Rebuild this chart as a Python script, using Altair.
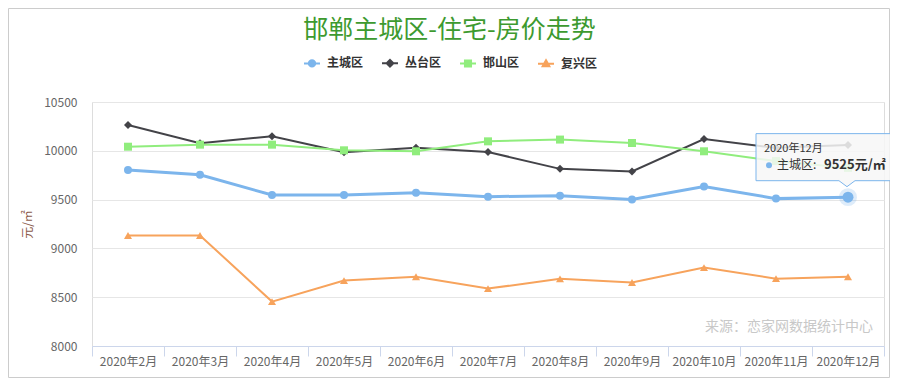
import altair as alt
import pandas as pd

months = ["2020年2月", "2020年3月", "2020年4月", "2020年5月", "2020年6月", "2020年7月",
          "2020年8月", "2020年9月", "2020年10月", "2020年11月", "2020年12月"]
series_names = ["主城区", "丛台区", "邯山区", "复兴区"]
zhucheng = [9803, 9755, 9547, 9547, 9570, 9530, 9540, 9500, 9635, 9510, 9525]
congtai = [10264, 10077, 10150, 9985, 10030, 9988, 9815, 9788, 10120, 10030, 10060]
hanshan = [10042, 10063, 10063, 10005, 9995, 10097, 10115, 10080, 9995, 9895, 9825]
fuxing = [9133, 9133, 8455, 8670, 8710, 8588, 8688, 8650, 8803, 8690, 8710]
y_ticks = [8000, 8500, 9000, 9500, 10000, 10500]

colors = ["#7cb5ec", "#434348", "#90ed7d", "#f7a35c"]
shapes = ["circle", "diamond", "square", "triangle-up"]
line_widths = [3, 2, 2, 2]
legend_paths = [
    "M-1,0H1M-0.4,0A0.4,0.4,0,1,0,0.4,0A0.4,0.4,0,1,0,-0.4,0Z",
    "M-1,0H1M0,-0.42L0.42,0L0,0.42L-0.42,0Z",
    "M-1,0H1M-0.38,-0.38H0.38V0.38H-0.38Z",
    "M-1,0H1M0,-0.42L0.42,0.34H-0.42Z",
]
tooltip_month = "2020年12月"
title_text = "邯郸主城区-住宅-房价走势"
source_text = "来源：恋家网数据统计中心"
FONT = "Noto Sans CJK SC"

all_values = [zhucheng, congtai, hanshan, fuxing]
rows = []
for name, vals in zip(series_names, all_values):
    for m, v in zip(months, vals):
        rows.append({"month": m, "series": name, "value": v})
df = pd.DataFrame(rows)

X = alt.X("month:N", sort=months,
          scale=alt.Scale(type="band", domain=months, paddingInner=0, paddingOuter=0),
          axis=alt.Axis(title=None, labelAngle=0, labelColor="#666666", labelFontSize=12,
                        labelFont=FONT, domainColor="#ccd6eb", tickColor="#ccd6eb",
                        tickSize=10, tickBand="extent", labelPadding=0, grid=False))
Y = alt.Y("value:Q",
          scale=alt.Scale(domain=[8000, 10500], nice=False, zero=False),
          axis=alt.Axis(values=y_ticks, title="元/㎡", titleColor="#8b5a4a", titleFontSize=12,
                        titleFont=FONT, titleFontWeight="normal", titlePadding=9,
                        labelColor="#666666", labelFontSize=12, labelFont=FONT,
                        labelPadding=15, domain=False, ticks=False,
                        gridColor="#e6e6e6", format="d"))

one_row = "datum.month == '2020年2月' && datum.series == '主城区'"
layers = []

# frame
frame = alt.Chart(df).transform_filter(one_row).mark_rect(
    fill="transparent", stroke="#cccccc", strokeWidth=1).encode(
    x=alt.value(-83.5), x2=alt.value(797.5), y=alt.value(-93.5), y2=alt.value(275.5))
layers.append(frame)

# title
layers.append(alt.Chart(df).transform_filter(one_row).mark_text(
    text=title_text, align="center", baseline="middle", fontSize=25, font=FONT,
    color="#3d9a2f").encode(x=alt.value(357.5), y=alt.value(-72)))

# source text
layers.append(alt.Chart(df).transform_filter(one_row).mark_text(
    text=source_text, align="right", baseline="middle", fontSize=14, font=FONT, color="#c8c8c8"
).encode(x=alt.value(781), y=alt.value(225)))

for name, c, shp, lw in zip(series_names, colors, shapes, line_widths):
    sub = alt.Chart(df).transform_filter(alt.datum.series == name)
    layers.append(sub.mark_line(color=c, strokeWidth=lw).encode(x=X, y=Y))
    layers.append(sub.mark_point(shape=shp, filled=True, size=64, color=c, opacity=1).encode(x=X, y=Y))

# hovered point
hov = alt.Chart(df).transform_filter(
    (alt.datum.series == series_names[0]) & (alt.datum.month == tooltip_month))
layers.append(hov.mark_circle(size=320, color=colors[0], opacity=0.25).encode(x=X, y=Y))
layers.append(hov.mark_circle(size=120, color=colors[0], opacity=1).encode(x=X, y=Y))

# tooltip box
box_path = "M-1,-0.346H1V0.346H0.456L0.338,0.434L0.22,0.346H-1Z"
layers.append(hov.mark_point(shape=box_path, size=18496, filled=True, fill="#f7f7f7",
                             fillOpacity=0.85, stroke=colors[0], strokeWidth=1, opacity=1,
                             xOffset=-24, yOffset=-40).encode(x=X, y=Y))
layers.append(hov.mark_text(align="left", baseline="middle", fontSize=11, font=FONT,
                            color="#333333", dx=-84, dy=-48).encode(
    x=X, y=Y, text=alt.Text("month:N")))
layers.append(hov.mark_circle(size=36, color=colors[0], opacity=1, xOffset=-79, yOffset=-32).encode(x=X, y=Y))
layers.append(hov.transform_calculate(lbl="datum.series + ':'").mark_text(
    align="left", baseline="middle", fontSize=12, font=FONT, color="#333333", dx=-71, dy=-32
).encode(x=X, y=Y, text="lbl:N"))
layers.append(hov.transform_calculate(lbl="datum.value + '元/㎡'").mark_text(
    align="left", baseline="middle", fontSize=13, font=FONT, fontWeight="bold", color="#333333",
    dx=-24, dy=-32
).encode(x=X, y=Y, text="lbl:N"))

# legend layer (empty data, explicit domains)
leg = alt.Legend(title=None, orient="none", direction="horizontal", legendX=211, legendY=-48,
                 labelFontSize=12, labelFont=FONT, labelFontWeight="bold", labelColor="#333333",
                 symbolSize=256, symbolStrokeWidth=2, labelOffset=6, columnPadding=14,
                 symbolOpacity=1)
legend_layer = alt.Chart(df).transform_filter("false").mark_point(filled=True, opacity=1).encode(
    color=alt.Color("series:N", scale=alt.Scale(domain=series_names, range=colors), legend=leg),
    stroke=alt.Stroke("series:N", scale=alt.Scale(domain=series_names, range=colors), legend=leg),
    shape=alt.Shape("series:N", scale=alt.Scale(domain=series_names, range=legend_paths), legend=leg),
)
layers.append(legend_layer)

chart = alt.layer(*layers).properties(
    width=792, height=244,
    autosize=alt.AutoSizeParams(type="none"),
    padding={"left": 84, "top": 94, "right": 6, "bottom": 32},
).configure_view(stroke=None).configure(font=FONT)

chart.save("out.html", embed_options={"renderer": "svg", "actions": False})
